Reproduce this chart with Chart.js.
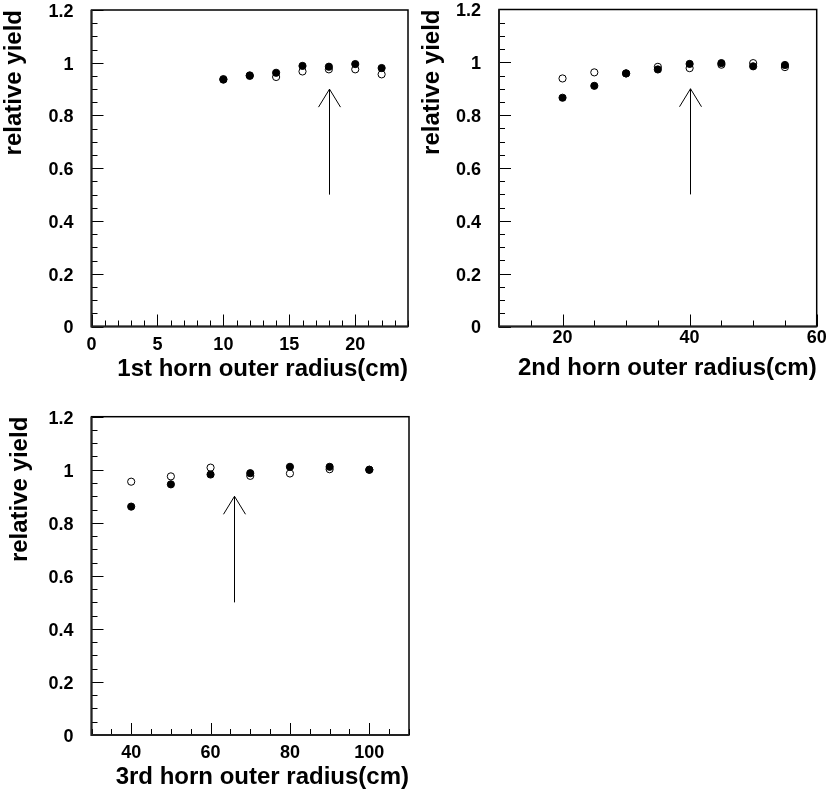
<!DOCTYPE html>
<html lang="en">
<head>
    <meta charset="UTF-8">
    <title>Relative yield vs horn outer radius</title>
    <script src="https://cdn.jsdelivr.net/npm/chart.js@4.4.1/dist/chart.umd.min.js"></script>
    <style>
        body { margin: 0; background: #fff; }
        #wrap { position: relative; width: 828px; height: 794px; }
        #wrap canvas { position: absolute; }
    </style>
</head>
<body>

<div id="wrap">
    <canvas id="horn1" width="414" height="400" style="left:0;top:0"></canvas>
    <canvas id="horn2" width="414" height="400" style="left:414px;top:0"></canvas>
    <canvas id="horn3" width="414" height="394" style="left:0;top:400px"></canvas>
</div>

<script>
    // 1st horn
    var horn1Radius = [10, 12, 14, 16, 18, 20, 22];
    var horn1Filled = [0.936, 0.952, 0.962, 0.988, 0.985, 0.995, 0.980];
    var horn1Open   = [0.938, 0.950, 0.946, 0.967, 0.975, 0.975, 0.956];
    var horn1Ticks  = [0, 5, 10, 15, 20];
    // 2nd horn
    var horn2Radius = [20, 25, 30, 35, 40, 45, 50, 55];
    var horn2Filled = [0.866, 0.911, 0.958, 0.973, 0.994, 0.997, 0.985, 0.990];
    var horn2Open   = [0.939, 0.962, 0.958, 0.983, 0.978, 0.991, 0.997, 0.982];
    var horn2Ticks  = [20, 40, 60];
    // 3rd horn
    var horn3Radius = [40, 50, 60, 70, 80, 90, 100];
    var horn3Filled = [0.861, 0.945, 0.982, 0.987, 1.011, 1.011, 1.000];
    var horn3Open   = [0.955, 0.975, 1.008, 0.977, 0.986, 1.002, 1.000];
    var horn3Ticks  = [40, 60, 80, 100];
    //
    var yieldTicks = [0, 0.2, 0.4, 0.6, 0.8, 1, 1.2];
    // arrows mark the chosen radius of each horn
    var arrowAt   = [18, 40, 66];
    var arrowBase = 0.5;
    var arrowTip  = 0.9;

    Chart.defaults.font.family = "'Liberation Sans', Arial, sans-serif";
    Chart.defaults.font.weight = 'bold';
    Chart.defaults.color = '#000';

    function toPoints(xs, ys) {
        return xs.map(function (x, i) { return {x: x, y: ys[i]}; });
    }

    // frame, inward ticks and arrow, PAW style
    var hornFrame = {
        id: 'hornFrame',
        afterDatasetsDraw: function (chart) {
            var o = chart.options.plugins.hornFrame;
            var ctx = chart.ctx, a = chart.chartArea;
            var xs = chart.scales.x, ys = chart.scales.y;
            ctx.save();
            ctx.strokeStyle = '#000';
            ctx.lineWidth = 1;

            var ax = Math.round(xs.getPixelForValue(o.arrowX)) + 0.5;
            var y0 = ys.getPixelForValue(arrowBase), y1 = ys.getPixelForValue(arrowTip);
            ctx.beginPath();
            ctx.moveTo(ax, y0);
            ctx.lineTo(ax, y1);
            ctx.moveTo(ax - 11, y1 + 18);
            ctx.lineTo(ax, y1);
            ctx.lineTo(ax + 11, y1 + 18);
            ctx.stroke();

            ctx.beginPath();
            var v, p, len;
            for (v = xs.min; v <= xs.max + 1e-9; v += o.xMinor) {
                len = o.xMajor.indexOf(Math.round(v * 100) / 100) >= 0 ? 12 : 6;
                p = Math.round(xs.getPixelForValue(v)) + 0.5;
                ctx.moveTo(p, a.bottom);
                ctx.lineTo(p, a.bottom - len);
            }
            for (v = ys.min; v <= ys.max + 1e-9; v += 0.05) {
                len = yieldTicks.indexOf(Math.round(v * 100) / 100) >= 0 ? 12 : 6;
                p = Math.round(ys.getPixelForValue(v)) + 0.5;
                ctx.moveTo(a.left, p);
                ctx.lineTo(a.left + len, p);
            }
            ctx.stroke();

            ctx.lineWidth = 1.5;
            ctx.strokeRect(a.left, a.top, a.right - a.left, a.bottom - a.top);
            ctx.lineWidth = 2;
            ctx.strokeStyle = '#222';
            ctx.beginPath();
            ctx.moveTo(a.left, a.top);
            ctx.lineTo(a.left, a.bottom);
            ctx.lineTo(a.right, a.bottom);
            ctx.stroke();
            ctx.restore();
        }
    };

    function plainLabel(value) {
        return String(value);
    }

    function makeHorn(id, p) {
        return new Chart(id, {
            type: 'scatter',
            data: {
                datasets: [{
                    data: toPoints(p.radius, p.filled),
                    pointRadius: 3.6,
                    borderWidth: 1,
                    borderColor: '#000',
                    backgroundColor: '#000'
                }, {
                    data: toPoints(p.radius, p.open),
                    pointRadius: 3.6,
                    borderWidth: 1,
                    borderColor: '#000',
                    backgroundColor: '#fff'
                }]
            },
            options: {
                responsive: false,
                animation: false,
                devicePixelRatio: 1,
                layout: { padding: p.pad },
                plugins: {
                    legend: { display: false },
                    tooltip: { enabled: false },
                    hornFrame: { arrowX: p.arrow, xMinor: p.minor, xMajor: p.ticks }
                },
                scales: {
                    x: {
                        type: 'linear',
                        min: p.min,
                        max: p.max,
                        grid: { display: false, drawTicks: false },
                        border: { display: false },
                        afterBuildTicks: function (s) { s.ticks = p.ticks.map(function (t) { return {value: t}; }); },
                        afterFit: function (s) {
                            s.height = p.xh;
                            s.paddingLeft = 0;
                            s.paddingRight = 0;
                        },
                        ticks: { autoSkip: false, maxRotation: 0, padding: p.xtp, callback: plainLabel,
                                 font: { size: 18, lineHeight: 1 } },
                        title: { display: true, text: p.title, align: 'end',
                                 padding: { top: 0, bottom: p.xtitle },
                                 font: { size: 24, lineHeight: 1 } }
                    },
                    y: {
                        min: 0,
                        max: 1.2,
                        grid: { display: false, drawTicks: false },
                        border: { display: false },
                        afterBuildTicks: function (s) { s.ticks = yieldTicks.map(function (t) { return {value: t}; }); },
                        afterFit: function (s) {
                            s.width = p.yw;
                            s.paddingTop = 0;
                            s.paddingBottom = 0;
                        },
                        ticks: { autoSkip: false, padding: 18, labelOffset: 2, callback: plainLabel,
                                 font: { size: 18, lineHeight: 1 } },
                        title: { display: true, text: 'relative yield', align: 'end',
                                 padding: { top: p.ytitle, bottom: 0 },
                                 font: { size: 24, lineHeight: 1 } }
                    }
                }
            },
            plugins: [hornFrame]
        });
    }

    makeHorn('horn1', {
        radius: horn1Radius, filled: horn1Filled, open: horn1Open, ticks: horn1Ticks,
        min: 0, max: 24, minor: 1, arrow: arrowAt[0],
        title: '1st horn outer radius(cm)',
        pad: { left: 0, right: 6, top: 10, bottom: 0 }, yw: 91.5, xh: 73.5,
        xtp: 9.5, xtitle: 19, ytitle: 2
    });
    makeHorn('horn2', {
        radius: horn2Radius, filled: horn2Filled, open: horn2Open, ticks: horn2Ticks,
        min: 10, max: 60, minor: 5, arrow: arrowAt[1],
        title: '2nd horn outer radius(cm)',
        pad: { left: 0, right: 11.3, top: 9.5, bottom: 0 }, yw: 85, xh: 73.5,
        xtp: 2.5, xtitle: 20, ytitle: 6.5
    });
    makeHorn('horn3', {
        radius: horn3Radius, filled: horn3Filled, open: horn3Open, ticks: horn3Ticks,
        min: 30, max: 110, minor: 5, arrow: arrowAt[2],
        title: '3rd horn outer radius(cm)',
        pad: { left: 0, right: 4.7, top: 16.7, bottom: 0 }, yw: 91.5, xh: 59,
        xtp: 9, xtitle: 5, ytitle: 8.5
    });
</script>

</body>
</html>
